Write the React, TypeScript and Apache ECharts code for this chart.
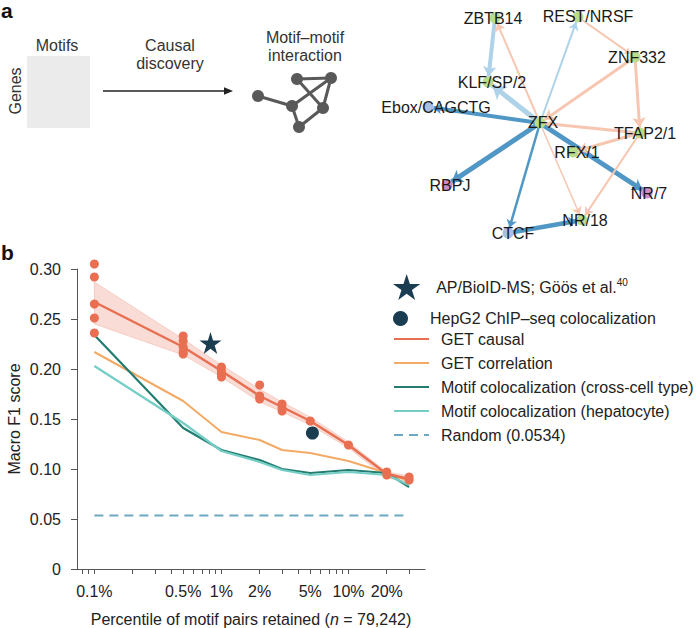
import React, { useEffect, useRef } from 'react';
import * as echarts from 'echarts';

// ---------- panel b data ----------
const percentiles = [0.1, 0.5, 1, 2, 3, 5, 10, 20, 30];
const causalMean = [0.267, 0.222, 0.198, 0.173, 0.162, 0.148, 0.124, 0.095, 0.09];
const causalLower = [0.245, 0.214, 0.192, 0.167, 0.157, 0.144, 0.121, 0.091, 0.087];
const causalUpper = [0.287, 0.23, 0.204, 0.18, 0.167, 0.152, 0.127, 0.097, 0.093];
const causalReplicates = [
  [0.305, 0.292, 0.265, 0.251, 0.236],
  [0.233, 0.228, 0.222, 0.217, 0.215],
  [0.202, 0.198, 0.195, 0.192],
  [0.184, 0.173, 0.17],
  [0.165, 0.161, 0.158],
  [0.148],
  [0.124],
  [0.097, 0.094],
  [0.092, 0.089],
];
const correlation = [0.217, 0.168, 0.137, 0.129, 0.119, 0.116, 0.108, 0.096, 0.088];
const colocCross = [0.234, 0.141, 0.119, 0.109, 0.1, 0.096, 0.099, 0.096, 0.082];
const colocHep = [0.203, 0.146, 0.118, 0.107, 0.099, 0.094, 0.097, 0.094, 0.084];
const randomF1 = 0.0534;
const randomRange = [0.1, 30];
const apBioid = [0.82, 0.226];
const hepg2Chip = [5.2, 0.136];

const xLabelValues = [0.1, 0.5, 1, 2, 5, 10, 20];
const xTickValues = [0.08, 0.09, 0.1, 0.2, 0.3, 0.4, 0.5, 0.6, 0.7, 0.8, 0.9, 1, 2, 3, 4, 5, 6, 7, 8, 9, 10, 20, 30];
const xExtent = [0.073, 40];

// ---------- panel a data ----------
const networkNodes = [
  { name: 'ZBTB14', kind: 'green' },
  { name: 'REST/NRSF', kind: 'green' },
  { name: 'ZNF332', kind: 'green' },
  { name: 'KLF/SP/2', kind: 'green' },
  { name: 'Ebox/CAGCTG', kind: 'blue' },
  { name: 'ZFX', kind: 'green' },
  { name: 'TFAP2/1', kind: 'green' },
  { name: 'RFX/1', kind: 'green' },
  { name: 'RBPJ', kind: 'pink' },
  { name: 'NR/7', kind: 'pink' },
  { name: 'NR/18', kind: 'green' },
  { name: 'CTCF', kind: 'blue' },
];
// [source, target, kind, width, arrow]
const networkEdges: [string, string, string, number, number][] = [
  ['ZFX', 'Ebox/CAGCTG', 'strong', 4, 8],
  ['ZFX', 'KLF/SP/2', 'light', 5, 13],
  ['ZFX', 'REST/NRSF', 'light', 2, 8],
  ['ZBTB14', 'KLF/SP/2', 'light', 4, 10],
  ['ZFX', 'RBPJ', 'strong', 5, 11],
  ['ZFX', 'CTCF', 'strong', 2.5, 8],
  ['ZFX', 'NR/7', 'strong', 5, 10],
  ['CTCF', 'NR/18', 'strong', 4.5, 8],
  ['ZFX', 'ZBTB14', 'neg', 2, 8],
  ['REST/NRSF', 'ZNF332', 'neg', 2, 6],
  ['ZNF332', 'ZFX', 'neg', 3, 10],
  ['ZNF332', 'TFAP2/1', 'neg', 3, 10],
  ['TFAP2/1', 'ZFX', 'neg', 3, 6],
  ['TFAP2/1', 'RFX/1', 'neg', 3, 9],
  ['TFAP2/1', 'NR/18', 'neg', 2, 8],
  ['ZFX', 'NR/18', 'neg', 1.5, 8],
];
// layout of the network (pixel positions) and label nudges
const networkLayout: Record<string, [number, number, number, number]> = {
  'ZBTB14': [495, 18, -2, 0],
  'REST/NRSF': [578, 17, 10, -1],
  'ZNF332': [635, 57, 2, 0],
  'KLF/SP/2': [488, 82, 4, 0],
  'Ebox/CAGCTG': [428, 107, 8, 0],
  'ZFX': [540, 123, 3, -1],
  'TFAP2/1': [640, 133, 5, 0],
  'RFX/1': [573, 152, 4, 0],
  'RBPJ': [447, 185, 3, 0],
  'NR/7': [647, 193, 2, 0],
  'NR/18': [582, 220, 3, 0],
  'CTCF': [508, 233, 5, 0],
};
const schematicNodes = ['A', 'B', 'C', 'D', 'E', 'F'];
const schematicEdges = [['A', 'D'], ['B', 'C'], ['B', 'E'], ['C', 'D'], ['C', 'E'], ['D', 'F'], ['F', 'E']];
const schematicLayout: Record<string, [number, number]> = {
  A: [258, 96], B: [297, 79], C: [331, 78], D: [292, 106], E: [323, 108], F: [299, 127],
};

const FONT = 'Liberation Sans, Arial, Helvetica, sans-serif';
const C_CAUSAL = '#E86F51';
const C_CORR = '#F2AA66';
const C_CROSS = '#237C70';
const C_HEP = '#74CEC6';
const C_RANDOM = '#6CA8C2';
const C_NAVY = '#1B3D52';
const NODE_COLORS: Record<string, string> = { green: '#B8DC8C', blue: '#A9BFE0', pink: '#CB8ECA' };
const EDGE_COLORS: Record<string, string> = { strong: '#5097C6', light: '#AED2E8', neg: '#F7C6B1' };
const STAR = 'path://M50,0 L61.2,34.5 L97.6,34.5 L68.2,55.9 L79.4,90.5 L50,69.1 L20.6,90.5 L31.8,55.9 L2.4,34.5 L38.8,34.5 Z';

const lg = (v: number) => Math.log10(v);

function graphBox(layout: Record<string, number[]>) {
  const xs = Object.values(layout).map((p) => p[0]);
  const ys = Object.values(layout).map((p) => p[1]);
  const x0 = Math.min(...xs), y0 = Math.min(...ys);
  return { left: x0, top: y0, width: Math.max(...xs) - x0, height: Math.max(...ys) - y0 };
}

function buildOption(): any {
  const xy = (arr: number[]) => percentiles.map((p, i) => [lg(p), arr[i]]);
  const repData: number[][] = [];
  causalReplicates.forEach((vals, i) => vals.forEach((v) => repData.push([lg(percentiles[i]), v])));

  const legendText = { fontFamily: FONT, fontSize: 16, color: '#222', padding: [0, 0, 0, 7] };

  return {
    animation: false,
    textStyle: { fontFamily: FONT },
    grid: { left: 77, top: 269, width: 348, height: 300, containLabel: false },
    xAxis: {
      type: 'value',
      min: lg(xExtent[0]),
      max: lg(xExtent[1]),
      z: 10,
      axisLine: { show: true, onZero: false, lineStyle: { color: '#555', width: 1 } },
      axisTick: { show: true, length: 5, lineStyle: { color: '#555' }, customValues: xTickValues.map(lg) },
      axisLabel: {
        customValues: xLabelValues.map(lg),
        formatter: (v: number) => `${+Math.pow(10, v).toPrecision(2)}%`,
        fontSize: 16, color: '#222', margin: 14, fontFamily: FONT,
      },
      splitLine: { show: false },
      name: '{t|Percentile of motif pairs retained (}{i|n}{t| = 79,242)}',
      nameLocation: 'middle',
      nameGap: 42,
      nameTextStyle: {
        rich: {
          t: { fontSize: 16, color: '#222', fontFamily: FONT },
          i: { fontSize: 16, color: '#222', fontFamily: FONT, fontStyle: 'italic' },
        },
      },
    },
    yAxis: {
      type: 'value',
      min: 0, max: 0.3, interval: 0.05,
      z: 10,
      axisLine: { show: true, onZero: false, lineStyle: { color: '#555', width: 1 } },
      axisTick: { show: true, length: 6, lineStyle: { color: '#555' } },
      axisLabel: {
        formatter: (v: number) => (v === 0 ? '0' : v.toFixed(2)),
        fontSize: 16, color: '#222', margin: 16, fontFamily: FONT,
      },
      splitLine: { show: false },
      name: 'Macro F1 score',
      nameLocation: 'middle',
      nameGap: 55,
      nameTextStyle: { fontSize: 16, color: '#222', fontFamily: FONT },
    },
    legend: [
      {
        left: 388, top: 269, itemWidth: 35, itemHeight: 26, selectedMode: false,
        data: ['AP/BioID-MS; Göös et al.'],
        formatter: (n: string) => `{t|${n}}{s|40}`,
        textStyle: {
          ...legendText,
          rich: {
            t: { fontSize: 16, color: '#222', fontFamily: FONT, lineHeight: 20 },
            s: { fontSize: 10, color: '#222', fontFamily: FONT, verticalAlign: 'top', lineHeight: 20 },
          },
        },
      },
      {
        left: 388, top: 305.5, itemWidth: 35, itemHeight: 15, selectedMode: false,
        data: ['HepG2 ChIP–seq colocalization'],
        textStyle: legendText,
      },
      {
        left: 388, top: 326, orient: 'vertical', itemWidth: 35, itemHeight: 14, itemGap: 8, selectedMode: false,
        itemStyle: { opacity: 0, borderWidth: 0 },
        data: ['GET causal', 'GET correlation', 'Motif colocalization (cross-cell type)', 'Motif colocalization (hepatocyte)', 'Random (0.0534)'],
        textStyle: legendText,
      },
    ],
    graphic: [
      { type: 'text', left: 1, top: 0, style: { text: 'a', font: `bold 21px ${FONT}`, fill: '#111' } },
      { type: 'text', left: 1, top: 242, style: { text: 'b', font: `bold 21px ${FONT}`, fill: '#111' } },
      { type: 'text', x: 57, y: 45, style: { text: 'Motifs', font: `16px ${FONT}`, fill: '#333', textAlign: 'center', textVerticalAlign: 'middle' } },
      { type: 'rect', shape: { x: 27, y: 56, width: 63, height: 72 }, style: { fill: '#EBEBEB' } },
      { type: 'text', x: 15, y: 91, rotation: Math.PI / 2, style: { text: 'Genes', font: `16px ${FONT}`, fill: '#333', textAlign: 'center', textVerticalAlign: 'middle' } },
      { type: 'text', x: 170, y: 54, style: { text: 'Causal\ndiscovery', font: `16px ${FONT}`, fill: '#333', textAlign: 'center', textVerticalAlign: 'middle', lineHeight: 18 } },
      { type: 'line', shape: { x1: 103, y1: 91, x2: 226, y2: 91 }, style: { stroke: '#222', lineWidth: 1.4 } },
      { type: 'polygon', shape: { points: [[233, 91], [224, 87.3], [224, 94.7]] }, style: { fill: '#222' } },
      { type: 'text', x: 305, y: 46.5, style: { text: 'Motif–motif\ninteraction', font: `16px ${FONT}`, fill: '#333', textAlign: 'center', textVerticalAlign: 'middle', lineHeight: 17.5 } },
    ],
    series: [
      {
        type: 'custom', name: 'ci-band', silent: true, z: 1,
        data: percentiles.map((p, i) => [lg(p), causalLower[i], causalUpper[i]]),
        renderItem: (params: any, api: any) => {
          if (params.dataIndex !== 0) return null;
          const upper = percentiles.map((p, i) => api.coord([lg(p), causalUpper[i]]));
          const lower = percentiles.map((p, i) => api.coord([lg(p), causalLower[i]])).reverse();
          return {
            type: 'polygon',
            shape: { points: upper.concat(lower) },
            style: { fill: 'rgba(238,140,120,0.30)', stroke: 'rgba(232,111,81,0.30)', lineWidth: 0.8 },
          };
        },
      },
      { type: 'line', name: 'GET correlation', data: xy(correlation), symbol: 'none', lineStyle: { color: C_CORR, width: 2 }, itemStyle: { color: C_CORR }, z: 2 },
      { type: 'line', name: 'Motif colocalization (cross-cell type)', data: xy(colocCross), symbol: 'none', lineStyle: { color: C_CROSS, width: 2.2 }, itemStyle: { color: C_CROSS }, z: 2 },
      { type: 'line', name: 'Motif colocalization (hepatocyte)', data: xy(colocHep), symbol: 'none', lineStyle: { color: C_HEP, width: 2.2 }, itemStyle: { color: C_HEP }, z: 2 },
      {
        type: 'line', name: 'Random (0.0534)', data: randomRange.map((p) => [lg(p), randomF1]), symbol: 'none',
        lineStyle: { color: C_RANDOM, width: 2, type: [9, 6] }, itemStyle: { color: C_RANDOM }, z: 2,
      },
      { type: 'line', name: 'GET causal', data: xy(causalMean), symbol: 'none', lineStyle: { color: C_CAUSAL, width: 2.5 }, itemStyle: { color: C_CAUSAL }, z: 3 },
      { type: 'scatter', name: 'causal-replicates', data: repData, clip: false, symbol: 'circle', symbolSize: 9, itemStyle: { color: C_CAUSAL, opacity: 1 }, z: 4, silent: true },
      { type: 'scatter', name: 'AP/BioID-MS; Göös et al.', data: [[lg(apBioid[0]), apBioid[1]]], symbol: STAR, symbolSize: 22, itemStyle: { color: C_NAVY, opacity: 1 }, z: 5 },
      { type: 'scatter', name: 'HepG2 ChIP–seq colocalization', data: [[lg(hepg2Chip[0]), hepg2Chip[1]]], symbol: 'circle', symbolSize: 13, itemStyle: { color: C_NAVY, opacity: 1 }, z: 5 },
      {
        type: 'graph', name: 'schematic', layout: 'none', roam: false, silent: true,
        ...graphBox(schematicLayout),
        symbol: 'circle', symbolSize: 12,
        itemStyle: { color: '#595959' },
        label: { show: false },
        lineStyle: { color: '#595959', width: 3, opacity: 1 },
        data: schematicNodes.map((n) => ({ name: n, x: schematicLayout[n][0], y: schematicLayout[n][1] })),
        links: schematicEdges.map(([s, t]) => ({ source: s, target: t })),
      },
      {
        type: 'graph', name: 'network', layout: 'none', roam: false, silent: true,
        ...graphBox(networkLayout),
        symbol: 'circle', symbolSize: 11,
        edgeSymbol: ['none', 'arrow'],
        label: { show: true, position: 'inside', fontSize: 16, color: '#1a1a1a', fontFamily: FONT },
        data: networkNodes.map((n) => {
          const p = networkLayout[n.name];
          return {
            name: n.name, x: p[0], y: p[1],
            itemStyle: { color: NODE_COLORS[n.kind] },
            label: { offset: [p[2], p[3]] },
          };
        }),
        links: networkEdges.map(([s, t, kind, w, a]) => ({
          source: s, target: t,
          symbolSize: [0, a],
          lineStyle: { color: EDGE_COLORS[kind], width: w, opacity: 1, curveness: 0 },
        })),
      },
    ],
  };
}

export default function App() {
  const ref = useRef<HTMLDivElement>(null);
  useEffect(() => {
    document.body.style.margin = '0';
    if (!ref.current) return;
    const chart = echarts.init(ref.current, undefined, { renderer: 'svg' });
    chart.setOption(buildOption());
    return () => chart.dispose();
  }, []);
  return <div ref={ref} style={{ width: 700, height: 628, background: '#fff' }} />;
}
